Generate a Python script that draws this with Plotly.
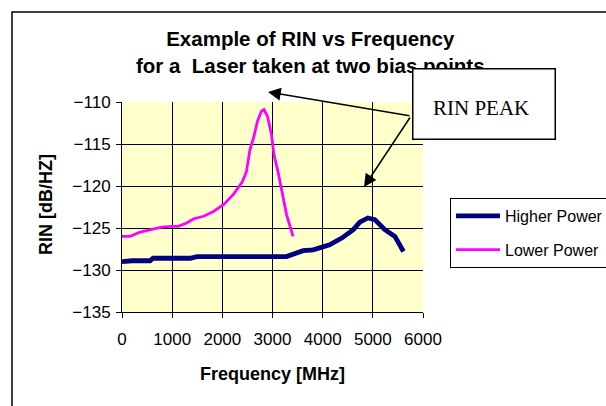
import plotly.graph_objects as go

# ---- data ----
higher_f = [0, 200, 560, 620, 1360, 1490, 2750, 3280, 3610, 3810, 4140, 4380, 4610, 4740, 4900, 5040, 5240, 5440, 5610]
higher_rin = [-129.0, -128.9, -128.9, -128.6, -128.6, -128.4, -128.4, -128.4, -127.7, -127.6, -127.0, -126.2, -125.2, -124.3, -123.8, -124.0, -125.2, -126.0, -127.8]

lower_f = [0, 160, 360, 560, 790, 990, 1120, 1290, 1430, 1630, 1830, 2030, 2220, 2400, 2480, 2550, 2630, 2700, 2780, 2830, 2900, 2980, 3030, 3110, 3180, 3280, 3410]
lower_rin = [-126.0, -126.0, -125.5, -125.2, -124.9, -124.8, -124.8, -124.4, -123.9, -123.6, -123.0, -122.2, -121.0, -119.5, -118.3, -115.7, -114.1, -112.3, -111.1, -110.9, -111.7, -113.9, -116.3, -118.3, -120.5, -123.4, -126.0]

x_ticks = [0, 1000, 2000, 3000, 4000, 5000, 6000]
y_ticks = [-135, -130, -125, -120, -115, -110]

FONT = "Liberation Sans, Arial, sans-serif"

fig = go.Figure()
fig.add_trace(go.Scatter(x=higher_f, y=higher_rin, mode="lines", name="Higher Power",
                         line=dict(color="#000080", width=4.8), legendgroup="a"))
fig.add_trace(go.Scatter(x=lower_f, y=lower_rin, mode="lines", name="Lower Power",
                         line=dict(color="#FF00FF", width=2.8), legendgroup="b"))

L, R, T, B = 122, 183, 102, 94
PW, PH = 606 - L - R, 406 - T - B

def px(xp):
    return (xp - L) / PW

def py(yp):
    return (406 - B - yp) / PH

fig.update_layout(
    width=606, height=406,
    margin=dict(l=L, r=R, t=T, b=B, autoexpand=False),
    paper_bgcolor="white",
    plot_bgcolor="#FFFFCC",
    font=dict(family=FONT, size=17, color="black"),
    showlegend=True,
    legend=dict(x=px(450), y=py(198), xanchor="left", yanchor="top",
                bgcolor="white", bordercolor="black", borderwidth=1,
                font=dict(size=16, family=FONT), tracegroupgap=10,
                traceorder="grouped", itemwidth=44),
    xaxis=dict(range=[0, 6000], tickvals=x_ticks, ticks="outside", ticklen=5,
               tickcolor="black", showline=True, linecolor="black", linewidth=1,
               showgrid=True, gridcolor="#000000", gridwidth=1, zeroline=False,
               tickfont=dict(size=17), ticklabelstandoff=7),
    yaxis=dict(range=[-135, -110], tickvals=y_ticks, ticks="outside", ticklen=5,
               tickcolor="black", showline=True, linecolor="black", linewidth=1,
               showgrid=True, gridcolor="#000000", gridwidth=1, zeroline=False,
               tickfont=dict(size=17), ticklabelstandoff=2),
)

# outer chart border
fig.add_shape(type="rect", xref="paper", yref="paper",
              x0=px(12), x1=px(700), y0=py(500), y1=py(12),
              line=dict(color="black", width=1.5), fillcolor="rgba(0,0,0,0)")

annotations = []
# title
annotations.append(dict(xref="paper", yref="paper", x=px(310), y=py(52),
                        xanchor="center", yanchor="middle", showarrow=False,
                        text="<b>Example of RIN vs Frequency<br>for a&nbsp; Laser taken at two bias points</b>",
                        font=dict(size=20.5, family=FONT)))
# axis titles
annotations.append(dict(xref="paper", yref="paper", x=0.5, y=py(374),
                        xanchor="center", yanchor="middle", showarrow=False,
                        text="<b>Frequency [MHz]</b>", font=dict(size=18, family=FONT)))
annotations.append(dict(xref="paper", yref="paper", x=px(46), y=py(205),
                        xanchor="center", yanchor="middle", showarrow=False, textangle=-90,
                        text="<b>RIN [dB/HZ]</b>", font=dict(size=18, family=FONT)))
# arrows
tail_x, tail_y = 411, 116
for tip_x, tip_y in [(268, 92), (364, 187)]:
    annotations.append(dict(xref="paper", yref="paper", x=px(tip_x), y=py(tip_y),
                            ax=tail_x - tip_x, ay=tail_y - tip_y, text="",
                            showarrow=True, arrowhead=2, arrowsize=1.7, arrowwidth=1.5,
                            arrowcolor="black"))
# RIN PEAK box (box first, then its text so it can sit a little low like the reference)
annotations.append(dict(xref="paper", yref="paper", x=px(484), y=py(104),
                        xanchor="center", yanchor="middle", showarrow=False,
                        text=" ", width=141, height=69, borderpad=0,
                        bgcolor="white", bordercolor="black", borderwidth=1.5,
                        font=dict(size=21)))
annotations.append(dict(xref="paper", yref="paper", x=px(481), y=py(108),
                        xanchor="center", yanchor="middle", showarrow=False,
                        text="RIN PEAK",
                        font=dict(size=21, family="Liberation Serif, Times New Roman, serif")))
fig.update_layout(annotations=annotations)

fig.write_html("out.html")
